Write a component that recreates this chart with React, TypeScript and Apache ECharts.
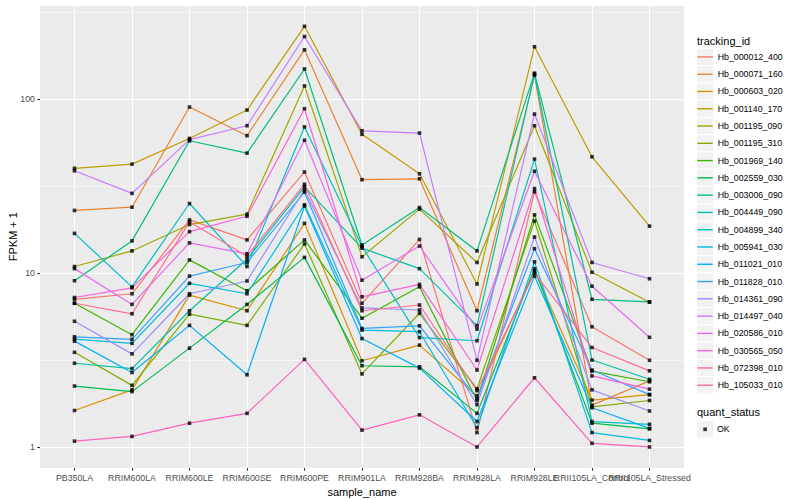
import React, { useEffect, useRef } from "react";
import * as echarts from "echarts";

const categories = [
  "PB350LA", "RRIM600LA", "RRIM600LE", "RRIM600SE", "RRIM600PE", "RRIM901LA",
  "RRIM928BA", "RRIM928LA", "RRIM928LE", "RRII105LA_Control", "RRII105LA_Stressed",
];

const trackingIds = [
  "Hb_000012_400", "Hb_000071_160", "Hb_000603_020", "Hb_001140_170", "Hb_001195_090",
  "Hb_001195_310", "Hb_001969_140", "Hb_002559_030", "Hb_003006_090", "Hb_004449_090",
  "Hb_004899_340", "Hb_005941_030", "Hb_011021_010", "Hb_011828_010", "Hb_014361_090",
  "Hb_014497_040", "Hb_020586_010", "Hb_030565_050", "Hb_072398_010", "Hb_105033_010",
];

const hueColors = [
  "#F8766D", "#EA8331", "#D89000", "#C09B00", "#A3A500", "#7CAE00", "#39B600", "#00BB4E",
  "#00BF7D", "#00C1A3", "#00BFC4", "#00BAE0", "#00B0F6", "#35A2FF", "#9590FF", "#C77CFF",
  "#E76BF3", "#FA62DB", "#FF62BC", "#FF6C91",
];

// FPKM + 1 per sample, in category order
const hb_000012_400 = [7.06, 7.6, 20.2, 15.5, 38.1, 6.7, 15.6, 1.21, 29.3, 4.91, 3.15];
const hb_000071_160 = [22.9, 23.9, 90, 61.6, 192, 34.4, 34.8, 6.07, 137, 1.74, 2.4];
const hb_000603_020 = [1.62, 2.13, 7.46, 6.07, 19.3, 3.13, 3.85, 1.97, 10.3, 1.86, 2.0];
const hb_001140_170 = [40, 42.3, 59.4, 86.5, 262, 62.7, 37.2, 8.65, 200, 46.6, 18.6];
const hb_001195_090 = [10.9, 13.4, 19.0, 21.8, 119, 12.4, 23.3, 11.5, 70.3, 10.1, 6.8];
const hb_001195_310 = [3.5, 2.26, 5.8, 5.0, 14.7, 2.63, 5.87, 2.16, 19.9, 1.7, 1.85];
const hb_001969_140 = [6.7, 4.42, 11.9, 7.9, 15.5, 5.5, 8.33, 1.85, 21.6, 2.73, 2.37];
const hb_002559_030 = [2.24, 2.08, 3.7, 6.6, 12.3, 2.93, 2.89, 1.56, 10.6, 1.37, 1.27];
const hb_003006_090 = [9.03, 15.3, 57.6, 48.9, 149, 14.5, 23.8, 13.4, 141, 7.06, 6.83];
const hb_004449_090 = [3.03, 2.82, 6.07, 12.0, 31.3, 13.9, 10.6, 4.98, 139, 3.16, 2.45];
const hb_004899_340 = [16.9, 8.33, 25.1, 10.9, 69.2, 14.2, 4.25, 4.08, 45.2, 1.4, 1.35];
const hb_005941_030 = [4.17, 3.94, 8.73, 7.6, 24.7, 4.7, 4.6, 1.29, 11.6, 1.21, 1.09];
const hb_011021_010 = [4.06, 2.68, 5.0, 2.6, 24.3, 4.2, 2.84, 1.4, 9.6, 1.68, 1.28];
const hb_011828_010 = [4.3, 4.16, 9.6, 11.5, 29.2, 4.8, 4.97, 1.9, 13.8, 2.77, 2.0];
const hb_014361_090 = [5.28, 3.43, 7.6, 9.0, 30.1, 6.3, 6.13, 1.75, 16.1, 2.13, 1.61];
const hb_014497_040 = [38.7, 28.7, 58.5, 70.3, 229, 65.7, 63.8, 3.15, 82, 11.5, 9.27];
const hb_020586_010 = [10.6, 6.6, 14.9, 12.9, 58, 9.1, 14.3, 4.76, 38.5, 8.4, 4.27];
const hb_030565_050 = [7.23, 8.22, 17.3, 21.2, 88, 7.3, 8.6, 2.77, 30.6, 2.56, 2.15];
const hb_072398_010 = [1.08, 1.15, 1.37, 1.56, 3.19, 1.25, 1.53, 1.0, 2.5, 1.05, 1.0];
const hb_105033_010 = [6.7, 5.83, 19.7, 12.5, 32.4, 6.07, 6.55, 2.11, 10.0, 3.73, 2.74];

const seriesValues = [
  hb_000012_400, hb_000071_160, hb_000603_020, hb_001140_170, hb_001195_090,
  hb_001195_310, hb_001969_140, hb_002559_030, hb_003006_090, hb_004449_090,
  hb_004899_340, hb_005941_030, hb_011021_010, hb_011828_010, hb_014361_090,
  hb_014497_040, hb_020586_010, hb_030565_050, hb_072398_010, hb_105033_010,
];

const quantStatus = ["OK"];
const yMinorBreaks = [Math.pow(10, 0.5), Math.pow(10, 1.5), Math.pow(10, 2.5)];

const FONT = "'Liberation Sans', Arial, Helvetica, sans-serif";

export default function App() {
  const ref = useRef<HTMLDivElement>(null);

  useEffect(() => {
    if (!ref.current) return;
    const chart = echarts.init(ref.current, null, { renderer: "svg" });

    const all = seriesValues.flat();
    const lo = Math.log10(Math.min(...all));
    const hi = Math.log10(Math.max(...all));
    const pad = (hi - lo) * 0.05;
    const yMin = Math.pow(10, lo - pad);
    const yMax = Math.pow(10, hi + pad);
    const xMin = -0.6;
    const xMax = categories.length - 1 + 0.6;
    const catIdx = categories.map((_, i) => i);
    // trailing entry at the axis end keeps every category label visible
    const labelPositions = [...catIdx, xMax];

    const gridTop = 5.3;
    const gridBottom = 32;

    const keyStep = 17.28;
    const key0 = 56.9;
    const keyRects: any[] = trackingIds.map((_, i) => ({
      type: "rect",
      shape: { x: 696.5, y: key0 + i * keyStep - keyStep / 2, width: keyStep, height: keyStep },
      style: { fill: "#F2F2F2", stroke: "#FFFFFF", lineWidth: 1 },
      silent: true,
    }));
    const okCenter = 429.3;
    keyRects.push({
      type: "rect",
      shape: { x: 696.5, y: okCenter - keyStep / 2, width: keyStep, height: keyStep },
      style: { fill: "#F2F2F2", stroke: "#FFFFFF", lineWidth: 1 },
      silent: true,
    });

    const lineSeries = trackingIds.map((id, k) => ({
      type: "line",
      name: id,
      data: seriesValues[k].map((v, i) => [i, v]),
      symbol: "none",
      showSymbol: false,
      lineStyle: { width: 1.2, color: hueColors[k] },
      itemStyle: { color: hueColors[k] },
      emphasis: { disabled: true },
      z: 2,
    }));

    const pointData: number[][] = [];
    seriesValues.forEach((vals) => vals.forEach((v, i) => pointData.push([i, v])));

    chart.setOption({
      animation: false,
      textStyle: { fontFamily: FONT },
      grid: {
        left: 40, right: 116, top: gridTop, bottom: gridBottom,
        containLabel: false,
        outerBoundsMode: "none",
        show: true, backgroundColor: "#EBEBEB", borderWidth: 0,
      },
      xAxis: {
        type: "value",
        min: xMin,
        max: xMax,
        name: "sample_name",
        nameLocation: "middle",
        nameGap: 14,
        nameTextStyle: { fontSize: 11, color: "#000", fontFamily: FONT },
        axisLine: { show: false, onZero: false },
        axisTick: { show: true, length: 2.75, customValues: labelPositions, lineStyle: { color: "#333333", width: 1.07 } },
        axisLabel: {
          customValues: labelPositions,
          margin: 5,
          fontSize: 8.8,
          color: "#4D4D4D",
          fontFamily: FONT,
          hideOverlap: false,
          showMinLabel: true,
          showMaxLabel: false,
          formatter: (v: number) => (Math.abs(v - Math.round(v)) < 1e-6 ? categories[Math.round(v)] ?? "" : ""),
        },
        splitLine: { show: true, lineStyle: { color: "#FFFFFF", width: 1.07 } },
      },
      yAxis: {
        type: "log",
        logBase: 10,
        min: yMin,
        max: yMax,
        axisLine: { show: false, onZero: false },
        axisTick: { show: true, length: 2.75, lineStyle: { color: "#333333", width: 1.07 } },
        axisLabel: {
          margin: 5,
          fontSize: 8.8,
          color: "#4D4D4D",
          fontFamily: FONT,
          showMinLabel: false,
          showMaxLabel: false,
          formatter: (v: number) => {
            const l = Math.log10(v);
            return Math.abs(l - Math.round(l)) < 1e-6 ? String(Math.round(v)) : "";
          },
        },
        splitLine: { show: true, lineStyle: { color: "#FFFFFF", width: 1.07 } },
      },
      legend: [
        {
          data: trackingIds,
          orient: "vertical",
          left: 697.3,
          top: key0 - keyStep / 2,
          padding: 0,
          itemGap: 0,
          itemWidth: 15.4,
          itemHeight: 1.4,
          icon: "rect",
          selectedMode: false,
          textStyle: { fontSize: 8.8, color: "#000", lineHeight: keyStep, fontFamily: FONT },
        },
        {
          data: quantStatus,
          orient: "vertical",
          left: 703.3,
          top: okCenter - keyStep / 2,
          padding: 0,
          itemGap: 0,
          itemWidth: 3.6,
          itemHeight: 3.6,
          icon: "rect",
          selectedMode: false,
          textStyle: { fontSize: 8.8, color: "#000", lineHeight: keyStep, fontFamily: FONT, padding: [0, 0, 0, 5] },
        },
      ],
      graphic: [
        ...keyRects,
        {
          type: "text",
          x: 697,
          y: 40.5,
          style: { text: "tracking_id", fill: "#000", font: `11px ${FONT}`, verticalAlign: "middle" },
          silent: true,
        },
        {
          type: "text",
          x: 697,
          y: 412.3,
          style: { text: "quant_status", fill: "#000", font: `11px ${FONT}`, verticalAlign: "middle" },
          silent: true,
        },
        {
          type: "text",
          x: 13,
          y: (gridTop + (500 - gridBottom)) / 2,
          rotation: Math.PI / 2,
          style: { text: "FPKM + 1", fill: "#000", font: `11px ${FONT}`, align: "center", verticalAlign: "middle" },
          silent: true,
        },
      ],
      series: [
        ...lineSeries,
        {
          type: "scatter",
          name: "OK",
          data: pointData,
          symbol: "rect",
          symbolSize: 3.6,
          itemStyle: { color: "#000000" },
          emphasis: { disabled: true },
          z: 3,
          markLine: {
            z: 1,
            silent: true,
            symbol: "none",
            label: { show: false },
            lineStyle: { color: "#FFFFFF", width: 0.55, type: "solid" },
            data: yMinorBreaks.map((b) => ({ yAxis: b })),
          },
        },
      ],
    });

    return () => chart.dispose();
  }, []);

  return <div ref={ref} style={{ position: "absolute", left: 0, top: 0, width: 800, height: 500 }} />;
}
